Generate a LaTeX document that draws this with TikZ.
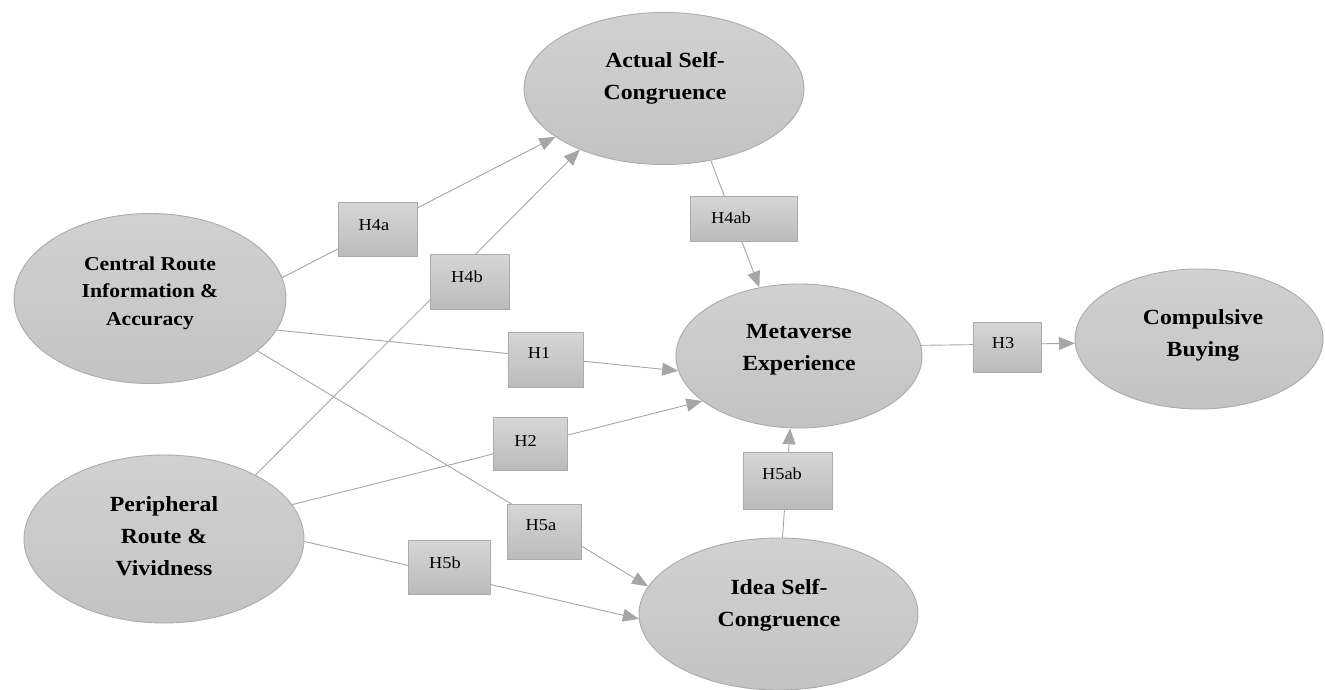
\documentclass[tikz,border=0pt]{standalone}
\usepackage{fontspec}
\setmainfont{Liberation Serif}[FakeStretch=1.1]
\usetikzlibrary{shapes.geometric,arrows.meta}
\definecolor{lnC}{HTML}{A6A6A6}
\definecolor{bdC}{HTML}{ABABAB}
\definecolor{elTop}{HTML}{D1D1D1}
\definecolor{elBot}{HTML}{C3C3C3}
\definecolor{bxTop}{HTML}{D6D6D6}
\definecolor{bxBot}{HTML}{BBBBBB}
\newcommand\hlab[3]{\hspace*{#1pt}\raisebox{#2pt}[\height][\depth]{#3}\hspace*{-#1pt}}
\begin{document}
\begin{tikzpicture}[x=1pt,y=-1pt,
  construct/.style={ellipse, draw=bdC, line width=0.9pt, top color=elTop, bottom color=elBot, inner sep=0pt},
  ctext/.style={align=center, inner sep=0pt, font=\fontsize{21.6}{32}\selectfont\bfseries},
  ctextsm/.style={align=center, inner sep=0pt, font=\fontsize{19.7}{27.5}\selectfont\bfseries},
  hbox/.style={rectangle, draw=bdC, line width=0.9pt, top color=bxTop, bottom color=bxBot, inner sep=0pt, font=\fontsize{16.7}{20}\selectfont},
  link/.style={draw=lnC, line width=0.9pt},
  arr/.style={link, -{Triangle[length=16pt,width=13pt]}}
]
\useasboundingbox (0,0) rectangle (1325,690);

% constructs
\node[construct, minimum width=280pt, minimum height=152pt] (ac) at (664,88.5) {};
\node[construct, minimum width=272pt, minimum height=170pt] (cr) at (150,298.5) {};
\node[construct, minimum width=280pt, minimum height=168pt] (pr) at (164,539) {};
\node[construct, minimum width=246pt, minimum height=144pt] (mv) at (799,356) {};
\node[construct, minimum width=248pt, minimum height=140pt] (cb) at (1199,339) {};
\node[construct, minimum width=279pt, minimum height=152pt] (id) at (778.5,614) {};

% connectors
\draw[arr] (cr.9.7) -- (ac.204.3);    % H4a
\draw[arr] (pr.35.4) -- (ac.216.2);   % H4b
\draw[arr] (ac.303.9) -- (mv.120.2);  % H4ab
\draw[arr] (cr.346.3) -- (mv.187.8);  % H1
\draw[arr] (pr.15) -- (mv.205.8);     % H2
\draw[arr] (mv.5.4) -- (cb.182.5);    % H3
\draw[arr] (cr.334.2) -- (id.168.7);  % H5a
\draw[arr] (pr.359.2) -- (id.182.8);  % H5b
\draw[arr] (id.87.4) -- (mv.263.6);   % H5ab

% hypothesis boxes
\node[hbox, minimum width=79pt, minimum height=54pt] (h4a) at (377.5,229.5) {\hlab{-3.5}{4.5}{H4a}};
\node[hbox, minimum width=79pt, minimum height=55pt] (h4b) at (469.5,281.5) {\hlab{-2.5}{4.5}{H4b}};
\node[hbox, minimum width=107pt, minimum height=45pt] (h4ab) at (743.5,218.5) {\hlab{-12.5}{0.5}{H4ab}};
\node[hbox, minimum width=75pt, minimum height=55pt] (h1) at (546,360) {\hlab{-7}{7}{H1}};
\node[hbox, minimum width=74pt, minimum height=53pt] (h2) at (530.5,444) {\hlab{-5}{3.3}{H2}};
\node[hbox, minimum width=68pt, minimum height=50pt] (h3) at (1007,347) {\hlab{-4}{4}{H3}};
\node[hbox, minimum width=74pt, minimum height=55pt] (h5a) at (544.8,531.7) {\hlab{-3.8}{6.7}{H5a}};
\node[hbox, minimum width=82pt, minimum height=54pt] (h5b) at (449.3,567.8) {\hlab{-4.3}{4.8}{H5b}};
\node[hbox, minimum width=89pt, minimum height=57pt] (h5ab) at (787.5,480.5) {\hlab{-5.5}{6.5}{H5ab}};

% construct labels
\node[ctext] (act) at (665,77.9) {Actual Self-\\Congruence};
\node[ctextsm] (crt) at (150,292.9) {Central Route\\Information \&\\Accuracy};
\node[ctext] (prt) at (164,535.9) {Peripheral\\Route \&\\Vividness};
\node[ctext] (mvt) at (799,349.7) {Metaverse\\Experience};
\node[ctext] (cbt) at (1203,334.9) {Compulsive\\Buying};
\node[ctext] (idt) at (779,604.8) {Idea Self-\\Congruence};
\end{tikzpicture}
\end{document}
